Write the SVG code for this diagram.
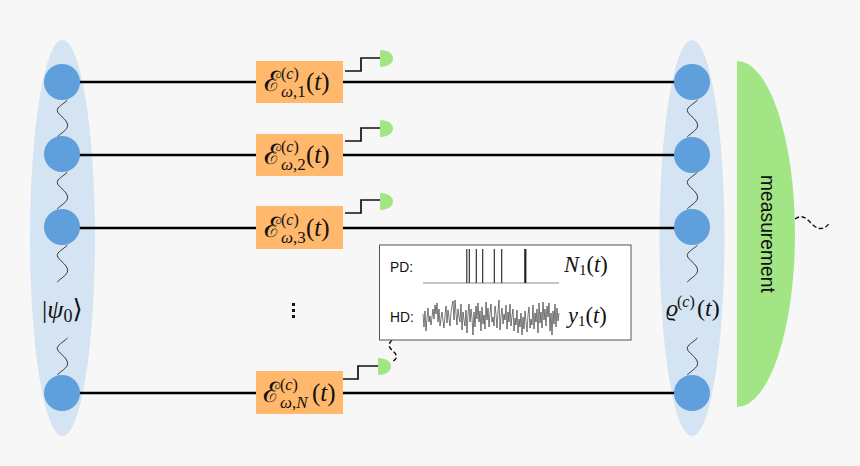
<svg xmlns="http://www.w3.org/2000/svg" width="860" height="466" viewBox="0 0 860 466">
<style>
.bg{fill:#f7f7f7}
.cloud{fill:#d5e4f2}
.q{fill:#5e9fdc}
.wire{stroke:#000;stroke-width:2.6;fill:none}
.stair{stroke:#111;stroke-width:1.7;fill:none}
.wave{stroke:#333;stroke-width:1;fill:none}
.dash{stroke:#111;stroke-width:1.4;fill:none;stroke-dasharray:4.500 2.500}
.box{fill:#ffb86c}
.det{fill:#a2e584}
.m{font-family:"Liberation Serif","DejaVu Serif",serif;fill:#111}
.i{font-style:italic}
.s{font-family:"Liberation Sans",Arial,sans-serif;fill:#111}
.e{font-size:28px}
.sup{font-size:16px}
.sub{font-size:17px}
.arg{font-size:25px}
</style>
<defs>
<path id="wv" d="M5.5,0 C1,4.5 -5,7 -4.7,10.5 C-4.4,15 5.6,19 5.6,25.5 C5.6,30 -1,33 -4.8,37"/>
<path id="dt" d="M0,0 C8,0 13,4 13,8.5 C13,13 8,17 0,17 Z"/>
</defs>
<rect class="bg" width="860" height="466"/>
<g id="left-register"><ellipse class="cloud" cx="62.500" cy="238" rx="32.500" ry="198"/></g>
<g id="right-register"><ellipse class="cloud" cx="692" cy="238" rx="32.500" ry="198"/></g>
<g id="connectors">
<path class="wire" d="M78,82H256M343,82H676M78,155H256M343,155H676M78,228H256M343,228H676M78,393H256M343,393H676"/>
<path class="stair" d="M345,71H361V58H380M345,141H361V128H380M345,213H361V200H380M343,379H358V366H378"/>
<g class="wave">
<use href="#wv" x="62" y="100"/><use href="#wv" x="62" y="172"/><use href="#wv" x="62" y="245"/><use href="#wv" x="62" y="338"/>
<use href="#wv" x="692" y="100"/><use href="#wv" x="692" y="172"/><use href="#wv" x="692" y="245"/><use href="#wv" x="692" y="338"/>
</g>
<path class="dash" d="M392,340C386,346 391,349 394,352C398,356 397,360 391,362"/>
<path class="dash" d="M795,219C802,214 806,218 811,223C816,229 824,232 830,222"/>
</g>
<g id="q1-left"><circle class="q" cx="62" cy="82" r="18"/></g>
<g id="q2-left"><circle class="q" cx="62" cy="154" r="18"/></g>
<g id="q3-left"><circle class="q" cx="62" cy="227" r="18"/></g>
<g id="qN-left"><circle class="q" cx="62" cy="393" r="18"/></g>
<g id="q1-right"><circle class="q" cx="692" cy="82" r="18"/></g>
<g id="q2-right"><circle class="q" cx="692" cy="155" r="18"/></g>
<g id="q3-right"><circle class="q" cx="692" cy="227" r="18"/></g>
<g id="qN-right"><circle class="q" cx="692" cy="393" r="18"/></g>
<g id="psi0"><text class="m" x="42" y="318" font-size="26">|<tspan class="i">ψ</tspan><tspan font-size="18" dy="4">0</tspan><tspan dy="-4">⟩</tspan></text></g>
<g id="rho"><text class="m" x="666" y="316" font-size="24"><tspan class="i">ϱ</tspan><tspan font-size="16" x="677" dy="-9">(<tspan class="i">c</tspan>)</tspan><tspan x="697" dy="9">(<tspan class="i">t</tspan>)</tspan></text></g>
<g id="E1"><rect class="box" x="256" y="61" width="87" height="42"/>
<text class="m e" x="264" y="91">ℰ</text>
<text class="m sup" x="281" y="79">(<tspan class="i">c</tspan>)</text>
<text class="m sub" x="281" y="97"><tspan class="i">ω</tspan>,1</text>
<text class="m arg" x="306" y="90">(<tspan class="i">t</tspan>)</text></g>
<g id="E2"><rect class="box" x="256" y="134" width="87" height="42"/>
<text class="m e" x="264" y="164">ℰ</text>
<text class="m sup" x="281" y="152">(<tspan class="i">c</tspan>)</text>
<text class="m sub" x="281" y="170"><tspan class="i">ω</tspan>,2</text>
<text class="m arg" x="306" y="163">(<tspan class="i">t</tspan>)</text></g>
<g id="E3"><rect class="box" x="256" y="206" width="87" height="43"/>
<text class="m e" x="264" y="237">ℰ</text>
<text class="m sup" x="281" y="225">(<tspan class="i">c</tspan>)</text>
<text class="m sub" x="281" y="243"><tspan class="i">ω</tspan>,3</text>
<text class="m arg" x="306" y="236">(<tspan class="i">t</tspan>)</text></g>
<g id="EN"><rect class="box" x="256" y="371" width="87" height="43"/>
<text class="m e" x="263" y="402">ℰ</text>
<text class="m sup" x="280" y="390">(<tspan class="i">c</tspan>)</text>
<text class="m sub" x="280" y="408"><tspan class="i">ω</tspan>,<tspan class="i">N</tspan></text>
<text class="m arg" x="312" y="401">(<tspan class="i">t</tspan>)</text></g>
<g id="det1"><use href="#dt" class="det" x="380" y="50"/></g>
<g id="det2"><use href="#dt" class="det" x="380" y="120"/></g>
<g id="det3"><use href="#dt" class="det" x="380" y="193"/></g>
<g id="detN"><use href="#dt" class="det" x="378" y="358"/></g>
<g id="dots"><rect x="292" y="303" width="3" height="3" fill="#111"/><rect x="292" y="309" width="3" height="3" fill="#111"/><rect x="292" y="315" width="3" height="3" fill="#111"/></g>
<g id="measurement"><path class="det" d="M737,61A58,173 0 0 1 737,407Z"/>
<text class="s" transform="translate(760.500,175) rotate(90)" font-size="19.300">measurement</text></g>
<g id="inset"><rect x="379.500" y="245" width="251.500" height="95" fill="#fff" stroke="#555" stroke-width="1"/>
<text class="s" x="390" y="272" font-size="13.800">PD:</text>
<text class="s" x="390" y="322" font-size="13.800">HD:</text>
<path d="M423,283H559" stroke="#888" stroke-width="1" fill="none"/>
<path d="M466.800,249V283M469.300,249V283M476.300,249V283M482.700,249V283M494.300,249V283M501.700,249V283" stroke="#222" stroke-width="1.100" fill="none"/>
<path d="M525.300,249V283" stroke="#222" stroke-width="2.200" fill="none"/>
<polyline fill="none" stroke="#222" stroke-width="0.600" points="423,314 424,327 425,311 426,331 427,318 428,308 429,322 430,316 431,325 433,309 434,319 435,305 436,314 437,303 438,322 439,309 440,326 441,318 442,312 443,321 444,328 445,315 446,306 447,323 448,310 449,318 450,326 451,312 452,306 453,301 454,320 455,300 456,313 457,325 458,309 459,317 460,322 461,304 462,330 463,312 464,320 465,326 466,310 467,333 468,314 469,304 470,322 471,309 472,318 473,335 474,312 475,327 476,306 477,319 478,303 479,322 480,311 481,331 482,307 483,324 484,315 485,329 486,302 487,320 488,308 489,327 490,313 491,304 492,322 493,317 494,326 495,306 496,314 497,328 498,311 499,300 500,330 501,316 502,308 503,324 504,314 505,320 506,305 507,329 508,312 509,322 510,304 511,326 512,316 513,309 514,331 515,318 516,325 517,310 518,333 519,319 520,327 521,313 522,335 523,317 524,329 525,311 526,322 527,332 528,315 529,307 530,328 531,319 532,325 533,305 534,329 535,313 536,322 537,309 538,333 539,303 540,323 541,312 542,328 543,302 544,320 545,309 546,326 547,306 548,317 549,303 550,331 551,313 552,335 553,311 554,324 555,304 556,327 557,308 558,321 559,313"/>
<text class="m i" x="564" y="272" font-size="22.500">N<tspan font-size="15" dy="3" font-style="normal">1</tspan><tspan dy="-3" font-style="normal">(</tspan>t<tspan font-style="normal">)</tspan></text>
<text class="m i" x="568" y="323" font-size="22.500">y<tspan font-size="15" dy="3" font-style="normal">1</tspan><tspan dy="-3" font-style="normal">(</tspan>t<tspan font-style="normal">)</tspan></text>
</g>
</svg>
